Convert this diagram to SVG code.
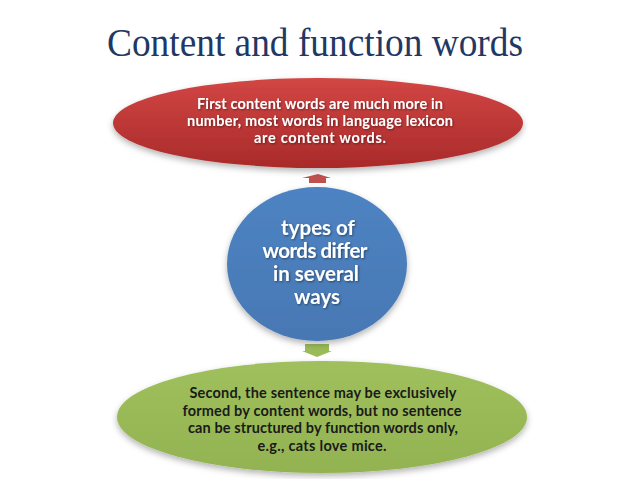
<svg xmlns="http://www.w3.org/2000/svg" width="638" height="479" viewBox="0 0 638 479">
  <defs>
    <linearGradient id="gRed" x1="0" y1="0" x2="0" y2="1">
      <stop offset="0" stop-color="#D24644"/>
      <stop offset="1" stop-color="#A92A2A"/>
    </linearGradient>
    <linearGradient id="gBlue" x1="0" y1="0" x2="0" y2="1">
      <stop offset="0" stop-color="#4E83C2"/>
      <stop offset="1" stop-color="#4778B4"/>
    </linearGradient>
    <linearGradient id="gGreen" x1="0" y1="0" x2="0" y2="1">
      <stop offset="0" stop-color="#9FC05C"/>
      <stop offset="1" stop-color="#93B352"/>
    </linearGradient>
    <filter id="shadow" x="-10%" y="-20%" width="120%" height="150%">
      <feDropShadow dx="0" dy="3" stdDeviation="3" flood-color="#000" flood-opacity="0.3"/>
    </filter>
    <filter id="tshadow" x="-10%" y="-30%" width="120%" height="160%">
      <feDropShadow dx="1" dy="1" stdDeviation="0.8" flood-color="#000" flood-opacity="0.45"/>
    </filter>
  </defs>
  <style>
    .title { font-family: "Liberation Serif", serif; font-size: 39px; fill: #1F3864; }
    .lbl { font-family: Lato, "Liberation Sans", sans-serif; font-weight: bold; text-anchor: middle; }
    .white { fill: #FFFFFF; }
    .dark { fill: #1A1A1A; }
    .s14 { font-size: 14.5px; }
    .s20 { font-size: 20.5px; }
  </style>
  <rect x="0" y="0" width="638" height="479" fill="#FFFFFF"/>
  <text class="title" x="107" y="56" textLength="416" lengthAdjust="spacingAndGlyphs">Content and function words</text>

  <g id="connectors">
    <polygon points="318,174 331,178 326,178 326,183 309,183 309,178 302,178" fill="#C0504D"/>
    <polygon points="305,344 329,344 329,351 332,351 317,357 302,351 305,351" fill="#9BBB59"/>
  </g>

  <g id="node-first">
    <ellipse cx="318" cy="123" rx="205" ry="45" fill="url(#gRed)" filter="url(#shadow)"/>
    <g class="lbl white s14" filter="url(#tshadow)">
      <text x="320" y="109" textLength="246">First content words are much more in</text>
      <text x="320" y="126" textLength="266">number, most words in language lexicon</text>
      <text x="320" y="143" textLength="132">are content words.</text>
    </g>
  </g>

  <g id="node-center">
    <ellipse cx="317" cy="264" rx="90" ry="77" fill="url(#gBlue)" filter="url(#shadow)"/>
    <g class="lbl white s20" filter="url(#tshadow)">
      <text x="318" y="235">types of</text>
      <text x="315" y="258" textLength="105">words differ</text>
      <text x="316" y="281">in several</text>
      <text x="317" y="304">ways</text>
    </g>
  </g>

  <g id="node-second">
    <ellipse cx="322" cy="417" rx="205" ry="56" fill="url(#gGreen)" filter="url(#shadow)"/>
    <g class="lbl dark s14">
      <text x="323" y="398" textLength="267">Second, the sentence may be exclusively</text>
      <text x="322" y="416" textLength="279">formed by content words, but no sentence</text>
      <text x="323" y="433" textLength="270">can be structured by function words only,</text>
      <text x="322" y="451" textLength="129">e.g., cats love mice.</text>
    </g>
  </g>
</svg>
